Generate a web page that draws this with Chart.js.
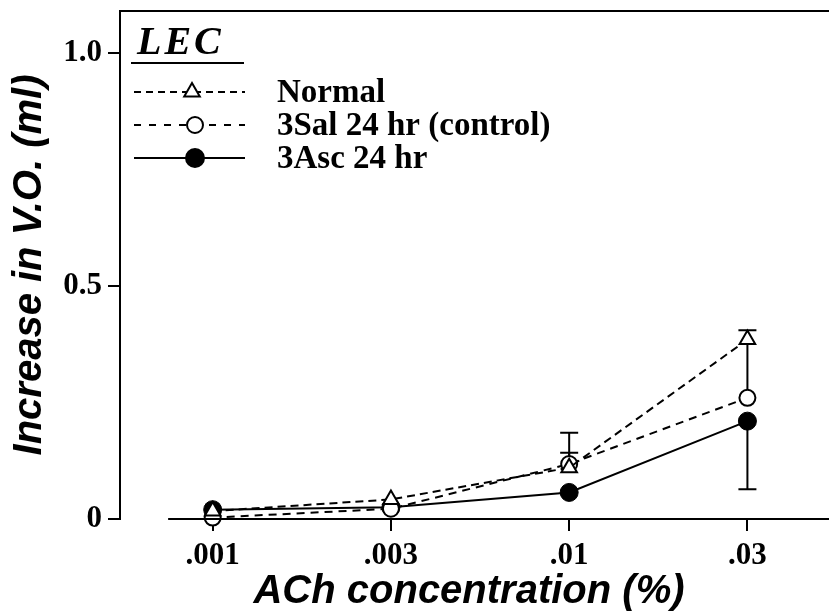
<!DOCTYPE html>
<html lang="en">
<head>
  <meta charset="UTF-8">
  <title>LEC - ACh response</title>
  <script src="https://cdn.jsdelivr.net/npm/chart.js"></script>
  <style>
    html, body { margin: 0; padding: 0; background: #fff; }
    canvas { display: block; }
  </style>
</head>
<body>
  <canvas id="lecChart" width="829" height="616"></canvas>
  <script>
    // ACh concentrations (%) and increase in V.O. (ml)
    const categories = ['.001', '.003', '.01', '.03'];
    const yTickValues = [0, 0.5, 1.0];
    const yTickLabels = ['0', '0.5', '1.0'];

    const normal = [0.017, 0.042, 0.110, 0.385];
    const sal24 = [0.003, 0.022, 0.118, 0.260];
    const asc24 = [0.020, 0.025, 0.057, 0.210];

    // error bars: only one side is drawn
    const normalErrUp = [0, 0, 0.075, 0];
    const sal24ErrUp = [0, 0, 0.024, 0.145];
    const asc24ErrDown = [0, 0, 0, 0.146];

    const serif = '"Liberation Serif", "DejaVu Serif", serif';
    const sans = '"Liberation Sans", Arial, sans-serif';

    const toPoints = arr => arr.map((v, i) => ({ x: i, y: v }));

    const errorBars = {
      id: 'errorBars',
      beforeDatasetsDraw(chart) {
        const ctx = chart.ctx, xs = chart.scales.x, ys = chart.scales.y;
        const sets = [
          [normal, normalErrUp, 1],
          [sal24, sal24ErrUp, 1],
          [asc24, asc24ErrDown, -1]
        ];
        ctx.save();
        ctx.strokeStyle = '#000';
        ctx.lineWidth = 2;
        sets.forEach(([vals, errs, dir]) => {
          errs.forEach((e, i) => {
            if (!e) return;
            const px = xs.getPixelForValue(i);
            const y0 = ys.getPixelForValue(vals[i]);
            const y1 = ys.getPixelForValue(vals[i] + dir * e);
            ctx.beginPath();
            ctx.moveTo(px, y0); ctx.lineTo(px, y1);
            ctx.moveTo(px - 9, y1); ctx.lineTo(px + 9, y1);
            ctx.stroke();
          });
        });
        ctx.restore();
      }
    };

    const frame = {
      id: 'frame',
      afterDraw(chart) {
        const ctx = chart.ctx, xs = chart.scales.x, ys = chart.scales.y;
        const area = chart.chartArea;
        ctx.save();
        ctx.strokeStyle = '#000';
        ctx.lineWidth = 2;
        // top border and detached x axis line
        ctx.beginPath();
        ctx.moveTo(area.left, area.top);
        ctx.lineTo(chart.width, area.top);
        const y0 = ys.getPixelForValue(0);
        ctx.moveTo(xs.getPixelForValue(-0.25), y0);
        ctx.lineTo(chart.width, y0);
        ctx.stroke();

        // legend
        ctx.fillStyle = '#000';
        ctx.textBaseline = 'middle';
        ctx.font = 'italic bold 40px ' + serif;
        ctx.letterSpacing = '3px';
        ctx.fillText('LEC', 137, 44);
        ctx.letterSpacing = '0px';
        ctx.beginPath();
        ctx.moveTo(131, 63); ctx.lineTo(244, 63);
        ctx.stroke();

        const rows = [
          { label: 'Normal', y: 92, dash: [7, 5], style: 'triangle', fill: '#fff', r: 9, mx: 192 },
          { label: '3Sal 24 hr (control)', y: 125, dash: [7, 8], style: 'circle', fill: '#fff', r: 8, mx: 195 },
          { label: '3Asc 24 hr', y: 158, dash: [], style: 'circle', fill: '#000', r: 9, mx: 195 }
        ];
        ctx.font = 'bold 33px ' + serif;
        rows.forEach(row => {
          ctx.lineWidth = 2;
          ctx.setLineDash(row.dash);
          ctx.beginPath();
          ctx.moveTo(134, row.y); ctx.lineTo(245, row.y);
          ctx.stroke();
          ctx.setLineDash([]);
          ctx.fillStyle = row.fill;
          ctx.strokeStyle = '#000';
          Chart.helpers.drawPoint(ctx, { pointStyle: row.style, radius: row.r, borderWidth: 2 }, row.mx, row.y);
          ctx.fillStyle = '#000';
          ctx.fillText(row.label, 277, row.y + 1);
        });
        ctx.restore();
      }
    };

    new Chart(document.getElementById('lecChart'), {
      type: 'line',
      data: {
        datasets: [
          {
            label: 'Normal',
            data: toPoints(normal),
            borderColor: '#000', borderWidth: 2, borderDash: [8, 5],
            pointStyle: 'triangle', pointRadius: 9, pointBorderWidth: 2,
            pointBackgroundColor: '#fff', pointBorderColor: '#000',
            order: 0, clip: false
          },
          {
            label: '3Sal 24 hr (control)',
            data: toPoints(sal24),
            borderColor: '#000', borderWidth: 2, borderDash: [8, 6],
            pointStyle: 'circle', pointRadius: 8, pointBorderWidth: 2,
            pointBackgroundColor: '#fff', pointBorderColor: '#000',
            order: 1, clip: false
          },
          {
            label: '3Asc 24 hr',
            data: toPoints(asc24),
            borderColor: '#000', borderWidth: 2,
            pointStyle: 'circle', pointRadius: 9, pointBorderWidth: 1,
            pointBackgroundColor: '#000', pointBorderColor: '#000',
            order: 2, clip: false
          }
        ]
      },
      options: {
        responsive: false,
        devicePixelRatio: 1,
        animation: false,
        layout: { padding: { top: 6, right: 0, left: 0, bottom: 0 } },
        plugins: { legend: { display: false }, tooltip: { enabled: false } },
        scales: {
          x: {
            type: 'linear',
            min: -0.52,
            max: 3.396,
            afterBuildTicks(scale) { scale.ticks = categories.map((c, i) => ({ value: i })); },
            afterFit(scale) {
              scale.height = 97;
              scale.paddingLeft = 0;
              scale.paddingRight = 0;
            },
            ticks: {
              callback: v => categories[v],
              color: '#000',
              font: { family: serif, size: 31, weight: 'bold' },
              padding: 6
            },
            grid: { drawOnChartArea: false, drawTicks: true, tickLength: 12, color: '#000', lineWidth: 2 },
            border: { display: false },
            title: {
              display: true,
              text: 'ACh concentration (%)',
              color: '#000',
              font: { family: sans, size: 40, weight: 'bold', style: 'italic' },
              padding: { top: 0, bottom: 0 }
            }
          },
          y: {
            min: 0,
            max: 1.09,
            afterBuildTicks(scale) { scale.ticks = yTickValues.map(v => ({ value: v })); },
            afterFit(scale) {
              scale.width = 120;
              scale.paddingTop = 0;
              scale.paddingBottom = 0;
            },
            ticks: {
              callback: (v, i) => yTickLabels[i],
              color: '#000',
              font: { family: serif, size: 31, weight: 'bold' },
              padding: 6
            },
            grid: { drawOnChartArea: false, drawTicks: true, tickLength: 12, color: '#000', lineWidth: 2 },
            border: { display: true, color: '#000', width: 2 },
            title: {
              display: true,
              text: 'Increase in V.O. (ml)',
              color: '#000',
              font: { family: sans, size: 40, weight: 'bold', style: 'italic' },
              padding: { top: 6, bottom: 0 }
            }
          }
        }
      },
      plugins: [errorBars, frame]
    });
  </script>
</body>
</html>
